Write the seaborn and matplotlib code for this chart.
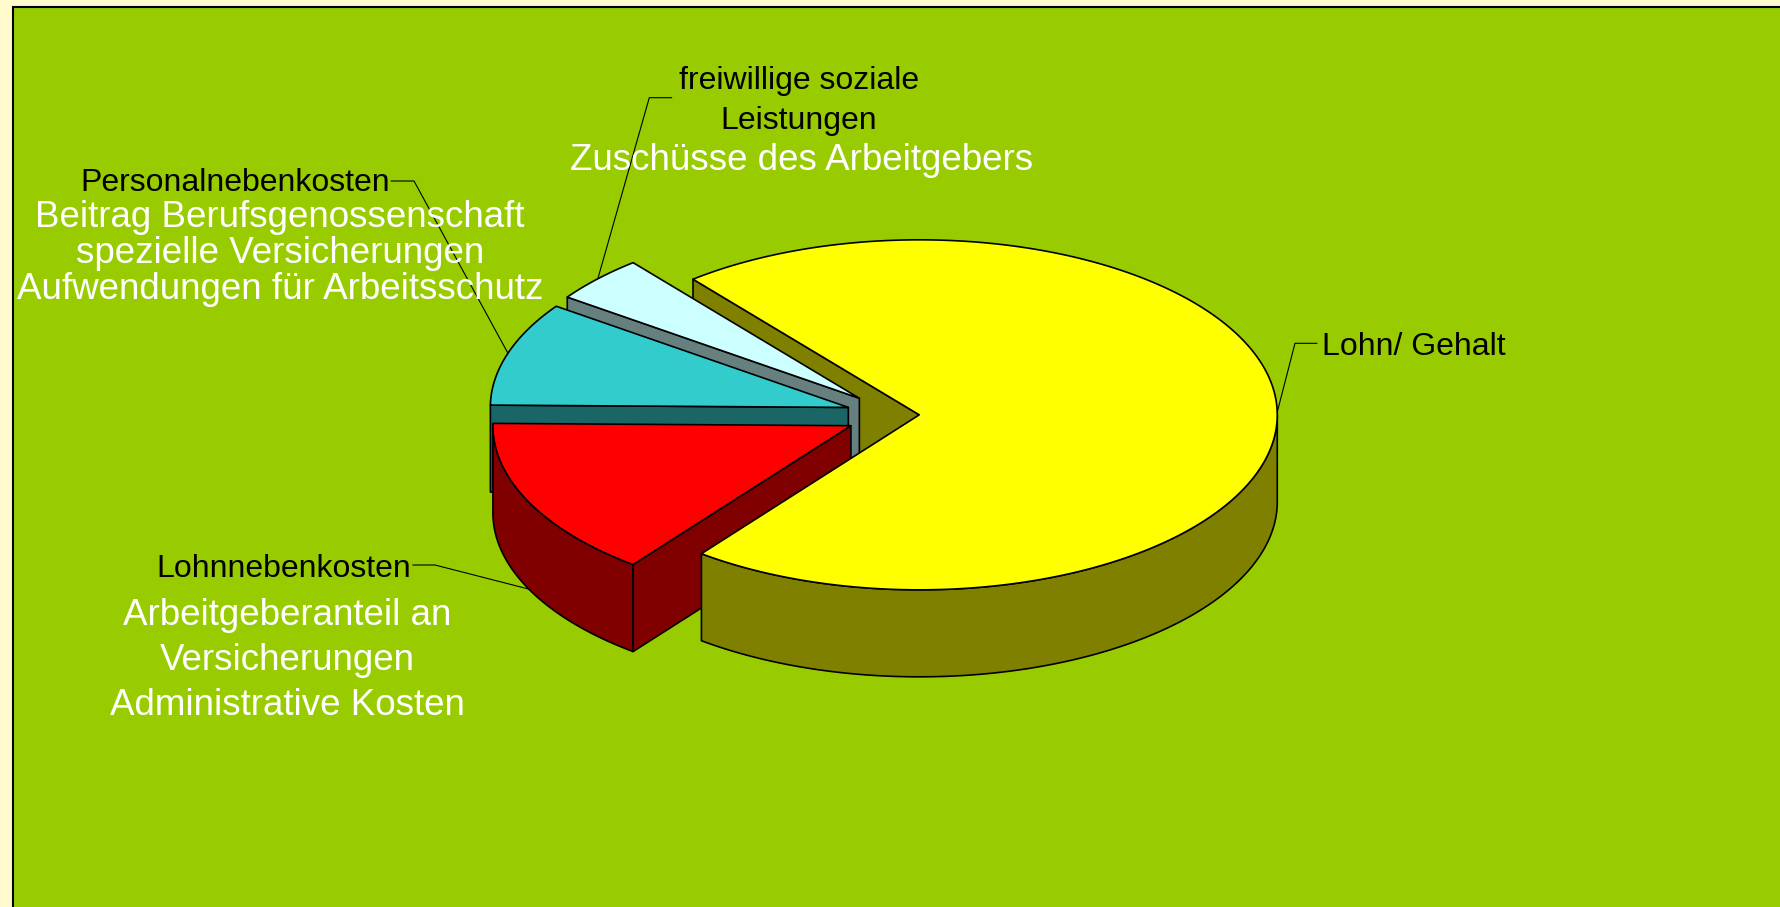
import numpy as np
import matplotlib
matplotlib.use("Agg")
import matplotlib.pyplot as plt
import seaborn as sns
from matplotlib.patches import Polygon, Rectangle

# --- data -------------------------------------------------------------
categories = ["Lohn/ Gehalt", "Lohnnebenkosten", "Personalnebenkosten",
              "freiwillige soziale\nLeistungen"]
details = ["",
           "Arbeitgeberanteil an\nVersicherungen\nAdministrative Kosten",
           "Beitrag Berufsgenossenschaft\nspezielle Versicherungen\nAufwendungen für Arbeitsschutz",
           "Zuschüsse des Arbeitgebers"]
shares = [71.3, 14.8, 9.6, 4.3]

# --- style ------------------------------------------------------------
top_colors = sns.color_palette(["#FFFF00", "#FF0000", "#33CCCC", "#CCFFFF"])
side_colors = sns.color_palette(["#808000", "#800000", "#1A6666", "#668080"])
explode = [0.065, 0.14, 0.14, 0.14]

sns.set_theme(style="white")
plt.rcParams["font.family"] = ["Liberation Sans", "DejaVu Sans"]

W, H = 1780, 907
fig = plt.figure(figsize=(W / 100, H / 100), dpi=100, facecolor="#FFFBCC")
ax = fig.add_axes([0, 0, 1, 1])
ax.set_xlim(0, W)
ax.set_ylim(H, 0)
ax.axis("off")

# plot area
ax.add_patch(Rectangle((13, 6.5), W + 50, H + 50, facecolor="#99CC00",
                       edgecolor="black", lw=1.5, zorder=0))

# --- 3D pie geometry ----------------------------------------------------
cx, cy = 896.0, 415.0      # centre of the un-exploded pie
a, b = 358.0, 175.0        # semi-axes of the top ellipse
depth = 87.0               # thickness of the pie
start = 129.2              # angle where the first slice begins (clockwise)

vals = np.asarray(shares, dtype=float)
spans = vals / vals.sum() * 360.0
t_max = start - np.concatenate([[0.0], np.cumsum(spans)[:-1]])
t_min = t_max - spans
t_mid = (t_max + t_min) / 2.0

rad = np.deg2rad
ox = cx + np.array(explode) * a * np.cos(rad(t_mid))
oy = cy - np.array(explode) * b * np.sin(rad(t_mid))


def rim(i, t):
    t = np.asarray(t, dtype=float)
    return ox[i] + a * np.cos(rad(t)), oy[i] - b * np.sin(rad(t))


def draw_poly(pts, color, z):
    ax.add_patch(Polygon(pts, closed=True, facecolor=color, edgecolor="black",
                         lw=1.2, joinstyle="round", zorder=z))


def cut_faces(i, z):
    for t, visible in ((t_max[i], np.cos(rad(t_max[i])) < 0),
                       (t_min[i], np.cos(rad(t_min[i])) > 0)):
        if visible:
            x, y = rim(i, t)
            pts = [(ox[i], oy[i]), (x, y), (x, y + depth), (ox[i], oy[i] + depth)]
            draw_poly(pts, side_colors[i], z)


def outer_wall(i, z):
    ts = np.linspace(t_max[i], t_min[i], 400)
    ts = ts[np.sin(rad(ts)) <= 0]
    if len(ts) < 2:
        return
    x, y = rim(i, ts)
    pts = np.column_stack([np.concatenate([x, x[::-1]]),
                           np.concatenate([y, (y + depth)[::-1]])])
    draw_poly(pts, side_colors[i], z)


def top_face(i, z):
    ts = np.linspace(t_max[i], t_min[i], 400)
    x, y = rim(i, ts)
    pts = np.column_stack([np.concatenate([[ox[i]], x]),
                           np.concatenate([[oy[i]], y])])
    draw_poly(pts, top_colors[i], z)


# back cut face of the large slice first, then the small slices, then the large one
z = 1
cut_faces(0, z)
for i in (3, 2, 1):
    z += 1
    outer_wall(i, z)
    cut_faces(i, z)
    top_face(i, z + 0.5)
z += 1
outer_wall(0, z)
top_face(0, z + 0.5)

# --- labels -------------------------------------------------------------
black_size, white_size = 23, 26.5
# (x, first baseline, line step, ha) for the black name and white detail text
name_layout = [(1321.7, 355.0, 0, "left"), (284.0, 576.7, 0, "center"),
               (235.0, 191.0, 0, "center"), (799.0, 89.0, 39.6, "center")]
detail_layout = [None, (287.0, 625.0, 45.0), (280.0, 227.0, 35.8), (802.0, 170.0, 0)]
# leader: text end point and elbow point
leader_layout = [((1317, 343.3), (1295, 343.3)), ((412.7, 565), (435, 565)),
                 ((391, 181), (414, 181)), ((671.7, 97.7), (649.3, 97.7))]

for i, name in enumerate(categories):
    x0, y0, step, ha = name_layout[i]
    for k, line in enumerate(name.split("\n")):
        ax.text(x0, y0 + k * step, line, color="black", fontsize=black_size,
                ha=ha, va="baseline", zorder=10)
    if details[i]:
        dx, dy, dstep = detail_layout[i]
        for k, line in enumerate(details[i].split("\n")):
            ax.text(dx, dy + k * dstep, line, color="white", fontsize=white_size,
                    ha="center", va="baseline", zorder=10)
    # leader line to the slice rim
    ex, ey = rim(i, t_mid[i])
    if np.sin(rad(t_mid[i])) < 0:
        ey = ey + depth
    (p0, p1) = leader_layout[i]
    ax.plot([p0[0], p1[0], ex], [p0[1], p1[1], ey], color="black", lw=0.8,
            zorder=9, solid_joinstyle="miter")

fig.savefig("out.png", dpi=100, facecolor=fig.get_facecolor())
